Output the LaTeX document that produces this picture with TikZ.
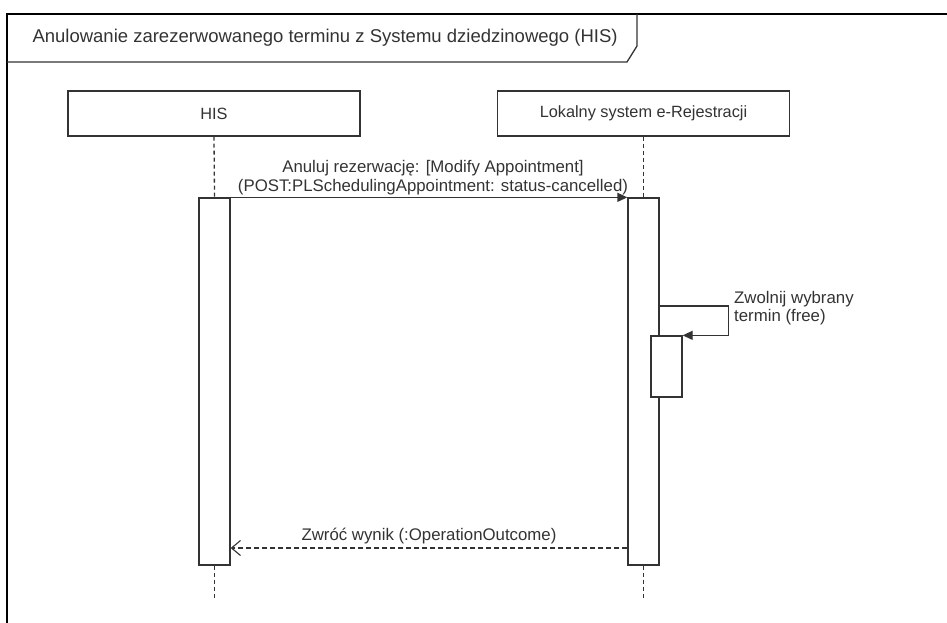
\documentclass[tikz,border=0pt]{standalone}
\usepackage{fontspec}
\setmainfont{Liberation Sans}
\usepackage{xcolor}
\usetikzlibrary{arrows.meta,positioning}

\definecolor{umlline}{HTML}{333333}

\begin{document}
\begin{tikzpicture}[
    x=1pt, y=-1pt,
    every node/.style={font=\fontsize{16.8}{18.5}\selectfont, text=umlline},
    participant/.style={draw=umlline, line width=1.3pt, fill=white, minimum width=292pt, minimum height=45pt, inner sep=0pt},
    activation/.style={draw=umlline, line width=1.3pt, fill=white, minimum width=31pt, inner sep=0pt},
    lifeline/.style={draw=umlline, line width=1.3pt, dash pattern=on 4pt off 3pt},
    call/.style={-{Triangle[length=10pt,width=9pt]}, draw=umlline, line width=1.3pt},
    reply/.style={-{Straight Barb[length=9pt,width=15pt,line width=1.1pt]}, draw=umlline, line width=1.3pt, dash pattern=on 5pt off 3pt},
]
\useasboundingbox (0,0) rectangle (947,623);

% Frame with title tab
\draw[black, line width=2pt] (7,623) -- (7,14) -- (947,14);
\draw[umlline, line width=1.3pt] (7,62) -- (627,62) -- (637,46) -- (637,14);
\node[anchor=west, font=\fontsize{18.5}{20}\selectfont] (title) at (29,38) {Anulowanie zarezerwowanego terminu z Systemu dziedzinowego (HIS)};

% Participants
\node[participant, font=\fontsize{16.3}{18}\selectfont] (his) at (214,113.5) {HIS};
\node[participant, font=\fontsize{16.3}{18}\selectfont] (lok) at (643.5,113.5) {Lokalny system e-Rejestracji};

% Activations
\node[activation, minimum height=367pt] (hisact) at (214.5,381.5) {};
\node[activation, minimum height=367pt] (lokact) at (643.5,381.5) {};

% Lifelines
\coordinate (hisend) at (214.5,598);
\coordinate (lokend) at (643.5,598);
\draw[lifeline] (his.south) -- (hisact.north);
\draw[lifeline] (hisact.south) -- (hisend);
\draw[lifeline] (lok.south) -- (lokact.north);
\draw[lifeline] (lokact.south) -- (lokend);

% Request
\draw[call] (hisact.north east) -- node[above=1pt, align=center, inner sep=1pt, xshift=4pt] {Anuluj rezerwację: [Modify Appointment]\\(POST:PLSchedulingAppointment: status-cancelled)} (lokact.north west);

% Self call
\node[activation, minimum height=61pt] (lokself) at (666.5,366.5) {};
\coordinate (selfstart) at (lokact.east |- 0,306);
\draw[call] (selfstart) -- ++(69,0) |- (lokself.north east);
\node[anchor=north west, align=left, inner sep=0pt] (selflabel) at (734,291) {Zwolnij wybrany\\termin (free)};

% Reply
\coordinate (replystart) at (lokact.west |- 0,548);
\draw[reply] (replystart) -- node[above=2pt, inner sep=1pt] {Zwróć wynik (:OperationOutcome)} (replystart -| hisact.east);

\end{tikzpicture}
\end{document}
